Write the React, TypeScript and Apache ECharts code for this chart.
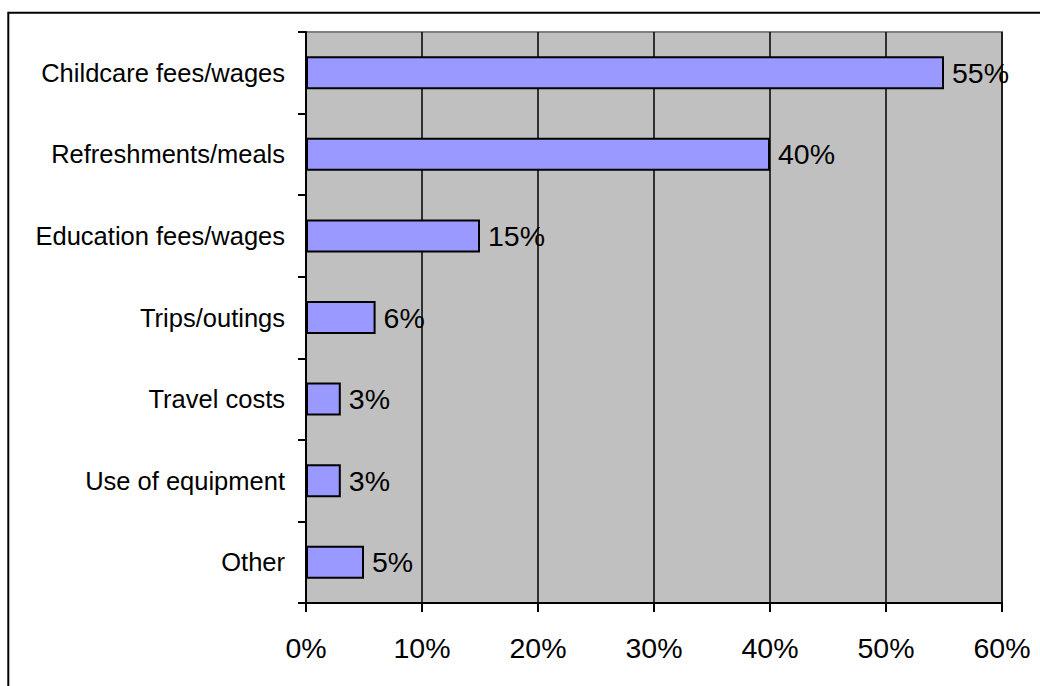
import React, { useEffect, useRef } from "react";
import * as echarts from "echarts";

const categories = [
  "Childcare fees/wages",
  "Refreshments/meals",
  "Education fees/wages",
  "Trips/outings",
  "Travel costs",
  "Use of equipment",
  "Other",
];
const values = [55, 40, 15, 6, 3, 3, 5];
const xTicks = [0, 10, 20, 30, 40, 50, 60];

export default function App() {
  const ref = useRef<HTMLDivElement>(null);
  useEffect(() => {
    if (!ref.current) return;
    const chart = echarts.init(ref.current, null, { renderer: "svg" });
    const font = "'Liberation Sans', Arial, sans-serif";
    chart.setOption({
      animation: false,
      backgroundColor: "#ffffff",
      graphic: [
        {
          type: "rect",
          shape: { x: 8.3, y: 12.8, width: 1200, height: 1000 },
          style: { fill: "none", stroke: "#000000", lineWidth: 2 },
          silent: true,
          z: 100,
        },
      ],
      grid: {
        left: 306,
        top: 32,
        width: 696,
        height: 571,
        show: true,
        backgroundColor: "#c0c0c0",
        borderColor: "#808080",
        borderWidth: 2,
      },
      xAxis: {
        type: "value",
        min: xTicks[0],
        max: xTicks[xTicks.length - 1],
        interval: 10,
        axisLine: { show: true, lineStyle: { color: "#000", width: 2 } },
        axisTick: { show: true, length: 9, lineStyle: { color: "#000", width: 2 } },
        splitLine: { show: true, lineStyle: { color: "#000", width: 1.5 } },
        axisLabel: {
          formatter: "{value}%",
          color: "#000",
          fontSize: 28.5,
          fontFamily: font,
          margin: 30,
        },
      },
      yAxis: {
        type: "category",
        inverse: true,
        data: categories,
        axisLine: { show: true, lineStyle: { color: "#000", width: 2 } },
        axisTick: { show: true, length: 8, lineStyle: { color: "#000", width: 2 } },
        splitLine: { show: false },
        axisLabel: {
          color: "#000",
          fontSize: 25.5,
          fontFamily: font,
          margin: 21,
        },
      },
      series: [
        {
          type: "bar",
          data: values,
          barWidth: 33,
          itemStyle: { color: "#9999ff", borderColor: "#000", borderWidth: 2 },
          label: {
            show: true,
            position: "right",
            distance: 8,
            formatter: "{c}%",
            color: "#000",
            fontSize: 28.5,
            fontFamily: font,
          },
        },
      ],
    });
    return () => chart.dispose();
  }, []);
  return (
    <div
      ref={ref}
      style={{ position: "absolute", left: 0, top: 0, width: 1040, height: 686 }}
    />
  );
}
